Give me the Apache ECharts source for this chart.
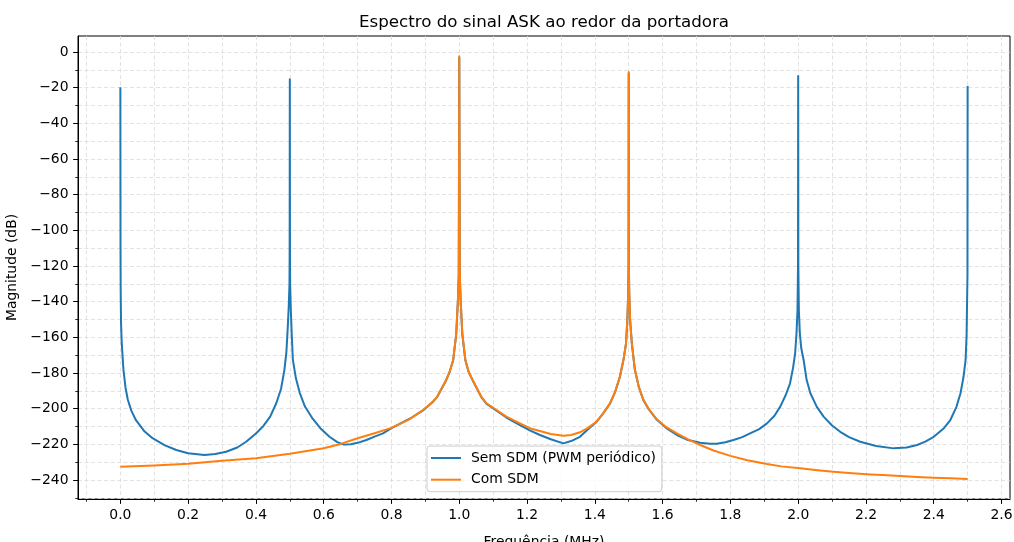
<!DOCTYPE html>
<html>
<head>
<meta charset="utf-8">
<script src="https://cdn.jsdelivr.net/npm/echarts@6/dist/echarts.min.js"></script>
<style>
html,body{margin:0;padding:0;background:#fff;}
#chart{width:1014px;height:542px;}
</style>
</head>
<body>
<div id="chart"></div>
<script>
// ---- data (frequency in MHz, magnitude in dB) ----
const semSDM = [
  [0, -19.8], [0.0005, -110], [0.001, -135], [0.002, -152], [0.004, -163], [0.009, -178],
  [0.015, -188], [0.022, -195], [0.032, -201], [0.046, -206.5], [0.07, -212.5], [0.095, -216.6],
  [0.13, -220.5], [0.165, -223.2], [0.2, -225], [0.248, -226], [0.28, -225.5], [0.312, -224.2],
  [0.345, -221.8], [0.371, -218.6], [0.40, -214], [0.42, -210.2], [0.442, -204.5], [0.46, -197],
  [0.474, -189], [0.484, -178.4], [0.49, -168], [0.494, -154], [0.497, -142], [0.499, -130],
  [0.4995, -115], [0.5, -15.3], [0.5005, -115], [0.501, -130], [0.503, -145], [0.506, -160],
  [0.509, -172.7], [0.518, -183], [0.529, -191], [0.545, -199], [0.568, -205.8], [0.59, -211],
  [0.617, -215.8], [0.64, -218.8], [0.66, -220.2], [0.68, -220], [0.70, -219.2], [0.726, -217.6],
  [0.75, -215.7], [0.775, -213.9], [0.80, -211], [0.824, -208.6], [0.86, -205], [0.893, -201],
  [0.92, -196.6], [0.935, -193.4], [0.961, -184.2], [0.972, -179.2], [0.982, -172.9], [0.991, -158.3],
  [0.996, -139.3], [0.9985, -125.3], [1.0, -3.0], [1.0015, -125.3], [1.004, -139.3], [1.009, -158.3],
  [1.018, -172.9], [1.028, -179.7], [1.041, -184.7], [1.065, -193.5], [1.08, -197.2], [1.11, -201.1],
  [1.139, -205], [1.179, -209.2], [1.208, -212.2], [1.238, -214.8], [1.27, -217.2], [1.307, -219.5],
  [1.33, -218.2], [1.356, -215.8], [1.38, -211.6], [1.405, -207.5], [1.425, -202.6], [1.445, -197.1],
  [1.46, -190.6], [1.474, -182.1], [1.485, -172.1], [1.492, -163.5], [1.496, -150.1], [1.4985, -135.1],
  [1.4995, -120.1], [1.5, -12], [1.5005, -120.1], [1.5015, -135.1], [1.504, -150.1], [1.509, -163.1],
  [1.518, -178.1], [1.53, -188.1], [1.543, -195.1], [1.56, -200.6], [1.583, -206.3], [1.61, -210.8],
  [1.642, -214.8], [1.675, -217.6], [1.711, -219.1], [1.74, -219.7], [1.76, -219.7], [1.785, -218.9],
  [1.809, -217.6], [1.835, -216], [1.858, -213.9], [1.885, -211.5], [1.908, -208.3], [1.93, -204],
  [1.947, -198.9], [1.963, -192.5], [1.976, -185.8], [1.985, -177], [1.991, -169], [1.995, -158],
  [1.998, -144.7], [1.9995, -120], [2.0, -13.5], [2.0005, -120], [2.002, -144.7], [2.005, -158],
  [2.009, -166], [2.016, -172.7], [2.025, -184], [2.036, -191.4], [2.055, -199], [2.075, -204.5],
  [2.1, -209.5], [2.124, -213], [2.15, -216], [2.183, -218.6], [2.23, -221], [2.282, -222.3],
  [2.32, -221.8], [2.351, -220.4], [2.375, -218.5], [2.4, -215.8], [2.43, -211], [2.449, -206.4],
  [2.467, -199], [2.479, -191.4], [2.488, -182], [2.494, -172.7], [2.497, -158], [2.498, -144.7],
  [2.4995, -125], [2.5, -19.1]
];
const comSDM = [
  [0, -232.6], [0.1, -231.9], [0.2, -230.9], [0.3, -229.2], [0.4, -227.8], [0.5, -225.3],
  [0.6, -222.2], [0.65, -219.8], [0.7, -216.6], [0.75, -213.8], [0.8, -210.8], [0.85, -206.3],
  [0.893, -200.8], [0.92, -196.5], [0.935, -193.3], [0.961, -184], [0.972, -179], [0.982, -172.7],
  [0.991, -158], [0.996, -139], [0.9985, -125], [1.0, -2.4], [1.0015, -125], [1.004, -139],
  [1.009, -158], [1.018, -172.7], [1.028, -179.5], [1.041, -184.5], [1.065, -193.3], [1.08, -197],
  [1.11, -200.8], [1.139, -204.5], [1.179, -208.3], [1.208, -211], [1.238, -212.6], [1.27, -214.2],
  [1.307, -215.2], [1.33, -214.8], [1.356, -213.3], [1.38, -210.8], [1.405, -207.3], [1.425, -202.5],
  [1.445, -197], [1.46, -190.5], [1.474, -182], [1.485, -172], [1.492, -163.4], [1.496, -150],
  [1.4985, -135], [1.4995, -120], [1.5, -11.2], [1.5005, -120], [1.5015, -135], [1.504, -150],
  [1.509, -163], [1.518, -178], [1.53, -188], [1.543, -195], [1.56, -200.5], [1.583, -206],
  [1.61, -210.3], [1.642, -213.9], [1.675, -217.3], [1.711, -220.4], [1.75, -223.5], [1.8, -226.5],
  [1.85, -229], [1.908, -231.1], [1.95, -232.4], [2.006, -233.5], [2.05, -234.4], [2.104, -235.4],
  [2.15, -236.1], [2.213, -236.9], [2.25, -237.3], [2.301, -237.8], [2.35, -238.3], [2.4, -238.8],
  [2.45, -239.1], [2.5, -239.5]
];
const seriesNames = ['Sem SDM (PWM periódico)', 'Com SDM'];
const xMajorTicks = [0.0, 0.2, 0.4, 0.6, 0.8, 1.0, 1.2, 1.4, 1.6, 1.8, 2.0, 2.2, 2.4, 2.6];
const xMinorTicks = [-0.1, 0.1, 0.3, 0.5, 0.7, 0.9, 1.1, 1.3, 1.5, 1.7, 1.9, 2.1, 2.3, 2.5];
const yMajorTicks = [-240, -220, -200, -180, -160, -140, -120, -100, -80, -60, -40, -20, 0];
const yMinorTicks = [-250, -230, -210, -190, -170, -150, -130, -110, -90, -70, -50, -30, -10];
const xRange = [-0.125, 2.625];
const yRange = [-250.7, 9];
const titleText = 'Espectro do sinal ASK ao redor da portadora';
const xName = 'Frequência (MHz)';
const yName = 'Magnitude (dB)';

// ---- chart ----
const FONT = 'DejaVu Sans';
const gridColor = '#dadada';
const gridLine = { show: true, lineStyle: { color: gridColor, width: 0.8, type: [4, 2.5] } };
const chart = echarts.init(document.getElementById('chart'), null, { renderer: 'canvas' });
const fmtY = v => (v < 0 ? '\u2212' + Math.abs(v) : String(v));

chart.setOption({
  animation: false,
  backgroundColor: '#fff',
  title: {
    text: titleText, left: 544, top: 14, textAlign: 'center', padding: 0,
    textStyle: { fontFamily: FONT, fontSize: 16.7, fontWeight: 'normal', color: '#000' }
  },
  grid: { left: 78, top: 36, width: 932, height: 463, show: true, borderColor: '#000', borderWidth: 1,
    backgroundColor: 'transparent', containLabel: false, outerBoundsMode: 'none' },
  legend: {
    orient: 'vertical', left: 427, top: 446,
    padding: [5, 6, 5, 4], itemWidth: 30, itemHeight: 2, itemGap: 7.7, icon: 'rect',
    backgroundColor: 'rgba(255,255,255,0.8)', borderColor: '#cccccc', borderWidth: 1, borderRadius: 3,
    textStyle: { fontFamily: FONT, fontSize: 13.9, lineHeight: 14, color: '#000', padding: [0, 0, 0, 5] },
    data: seriesNames
  },
  xAxis: [
    {
      type: 'value', min: xRange[0], max: xRange[1], position: 'bottom',
      name: xName, nameLocation: 'middle', nameGap: 36,
      nameTextStyle: { fontFamily: FONT, fontSize: 13.9, color: '#000' },
      axisLine: { show: true, onZero: false, lineStyle: { color: '#000', width: 1 } },
      axisTick: { show: true, length: 4.9, lineStyle: { color: '#000', width: 1 }, customValues: xMajorTicks },
      axisLabel: { show: true, margin: 9.5, fontFamily: FONT, fontSize: 13.9, color: '#000',
        customValues: xMajorTicks, formatter: v => v.toFixed(1) },
      splitLine: gridLine
    },
    {
      type: 'value', min: xRange[0], max: xRange[1], position: 'bottom', offset: 0,
      axisLine: { show: false, onZero: false },
      axisTick: { show: true, length: 2.8, lineStyle: { color: '#000', width: 0.8 }, customValues: xMinorTicks },
      axisLabel: { show: false, customValues: xMinorTicks },
      splitLine: gridLine
    }
  ],
  yAxis: [
    {
      type: 'value', min: yRange[0], max: yRange[1], position: 'left',
      name: yName, nameLocation: 'middle', nameGap: 50, nameRotate: 90,
      nameTextStyle: { fontFamily: FONT, fontSize: 13.9, color: '#000' },
      axisLine: { show: true, onZero: false, lineStyle: { color: '#000', width: 1 } },
      axisTick: { show: true, length: 4.9, lineStyle: { color: '#000', width: 1 }, customValues: yMajorTicks },
      axisLabel: { show: true, margin: 9.5, fontFamily: FONT, fontSize: 13.9, color: '#000',
        customValues: yMajorTicks, formatter: fmtY },
      splitLine: gridLine
    },
    {
      type: 'value', min: yRange[0], max: yRange[1], position: 'left', offset: 0,
      axisLine: { show: false, onZero: false },
      axisTick: { show: true, length: 2.8, lineStyle: { color: '#000', width: 0.8 }, customValues: yMinorTicks },
      axisLabel: { show: false, customValues: yMinorTicks },
      splitLine: gridLine
    }
  ],
  series: [
    {
      name: seriesNames[0], type: 'line', data: semSDM, xAxisIndex: 0, yAxisIndex: 0,
      symbol: 'none', showSymbol: false, smooth: false,
      lineStyle: { color: '#1f77b4', width: 2, join: 'round', cap: 'butt' }, itemStyle: { color: '#1f77b4' }, z: 3
    },
    {
      name: seriesNames[1], type: 'line', data: comSDM, xAxisIndex: 0, yAxisIndex: 0,
      symbol: 'none', showSymbol: false, smooth: false,
      lineStyle: { color: '#ff7f0e', width: 2, join: 'round', cap: 'butt' }, itemStyle: { color: '#ff7f0e' }, z: 4
    }
  ]
});
</script>
</body>
</html>
